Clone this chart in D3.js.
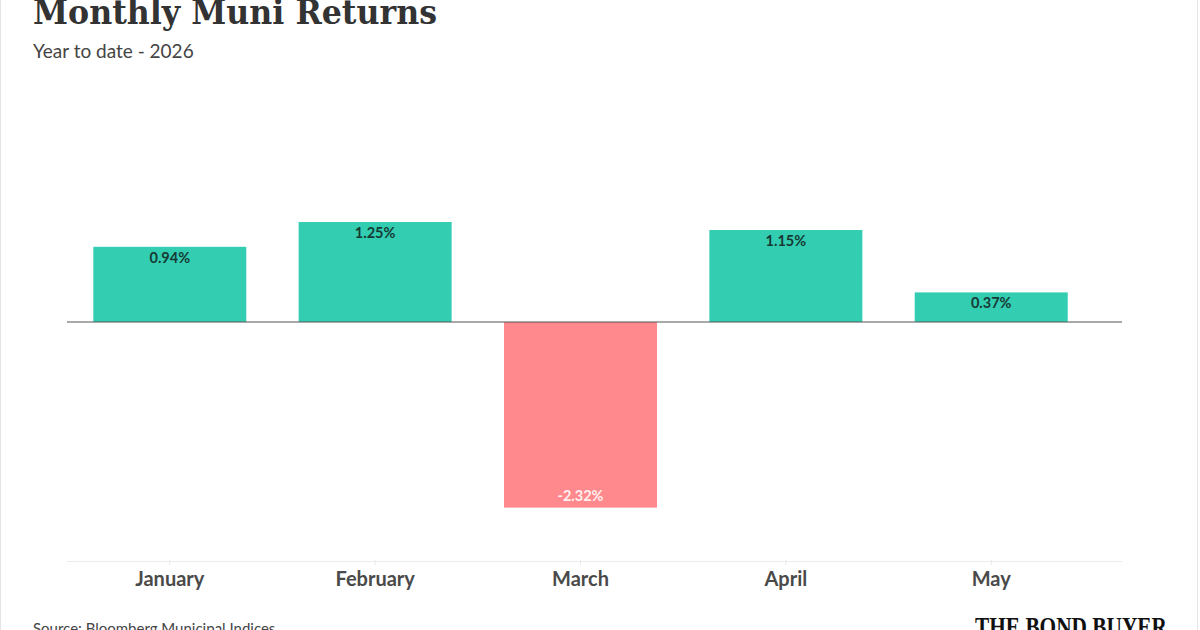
<!DOCTYPE html>
<html>
<head>
<meta charset="utf-8">
<script src="https://cdn.jsdelivr.net/npm/d3@7"></script>
<style>
  body { margin: 0; background: #fff; }
  svg { display: block; }
  .title { font-family: "DejaVu Serif", serif; font-weight: bold; fill: #333; }
  .sub { font-family: Lato, sans-serif; fill: #444; }
  .xlab { font-family: Lato, sans-serif; font-weight: bold; fill: #4a4a4a; }
  .val { font-family: Lato, sans-serif; font-weight: bold; }
</style>
</head>
<body>
<svg width="1200" height="630" viewBox="0 0 1200 630"></svg>
<script>
let months = ["January", "February", "March", "April", "May"];
let returns = [0.94, 1.25, -2.32, 1.15, 0.37];
let labels = ["0.94%", "1.25%", "-2.32%", "1.15%", "0.37%"];

let data = months.map((m, i) => ({ month: m, value: returns[i], label: labels[i] }));

let svg = d3.select("svg");

// frame
svg.append("rect")
  .attr("x", 0.5).attr("y", -2)
  .attr("width", 1197).attr("height", 640)
  .attr("fill", "none").attr("stroke", "#e4e4e4");

svg.append("text").attr("class", "title")
  .attr("x", 33).attr("y", 24)
  .attr("font-size", 33)
  .attr("textLength", 404)
  .attr("lengthAdjust", "spacingAndGlyphs")
  .text("Monthly Muni Returns");

svg.append("text").attr("class", "sub")
  .attr("x", 33).attr("y", 58)
  .attr("font-size", 19)
  .text("Year to date - 2026");

let xScale = d3.scaleBand().domain(months).range([67, 1094]).paddingInner(0.255).paddingOuter(0.128);
let yScale = d3.scaleLinear().domain([-2.32, 1.25]).range([507.6, 222]);

// bottom baseline with ticks
let xAxis = svg.append("g")
  .attr("transform", `translate(0,561)`)
  .call(d3.axisBottom(xScale).tickSize(5).tickSizeOuter(0));
xAxis.select(".domain").remove();
xAxis.selectAll(".tick line").attr("stroke", "#e6e6e6").attr("y1", -1).attr("y2", 4);
xAxis.selectAll(".tick text").attr("class", "xlab").attr("font-size", 20).attr("dy", 0).attr("y", 25);
svg.append("line")
  .attr("x1", 67).attr("x2", 1122)
  .attr("y1", 561.5).attr("y2", 561.5)
  .attr("stroke", "#ececec");

let fig = svg.append("g");
fig.selectAll("rect")
  .data(data)
  .enter()
  .append("rect")
  .attr("x", (d) => xScale(d.month))
  .attr("width", xScale.bandwidth())
  .attr("y", (d) => yScale(Math.max(0, d.value)))
  .attr("height", (d) => Math.abs(yScale(d.value) - yScale(0)))
  .attr("fill", (d) => (d.value >= 0 ? "#33cdb2" : "#ff898c"));

fig.selectAll(".val")
  .data(data)
  .enter()
  .append("text")
  .attr("class", "val")
  .attr("x", (d) => xScale(d.month) + xScale.bandwidth() / 2)
  .attr("y", (d) => (d.value >= 0 ? yScale(d.value) + 16 : yScale(d.value) - 7))
  .attr("text-anchor", "middle")
  .attr("font-size", 14.5)
  .attr("fill", (d) => (d.value >= 0 ? "#163a33" : "#fff0f0"))
  .text((d) => d.label);

// zero line
svg.append("line")
  .attr("x1", 67).attr("x2", 1122)
  .attr("y1", yScale(0)).attr("y2", yScale(0))
  .attr("stroke", "#555").attr("stroke-width", 1.2);

svg.append("text").attr("class", "sub")
  .attr("x", 33).attr("y", 634)
  .attr("font-size", 15)
  .text("Source: Bloomberg Municipal Indices");

svg.append("text")
  .attr("x", 1167).attr("y", 636)
  .attr("text-anchor", "end")
  .attr("font-family", "Liberation Serif, serif")
  .attr("font-weight", "bold")
  .attr("font-size", 28)
  .attr("fill", "#111")
  .attr("textLength", 192)
  .attr("lengthAdjust", "spacingAndGlyphs")
  .text("THE BOND BUYER");
</script>
</body>
</html>
